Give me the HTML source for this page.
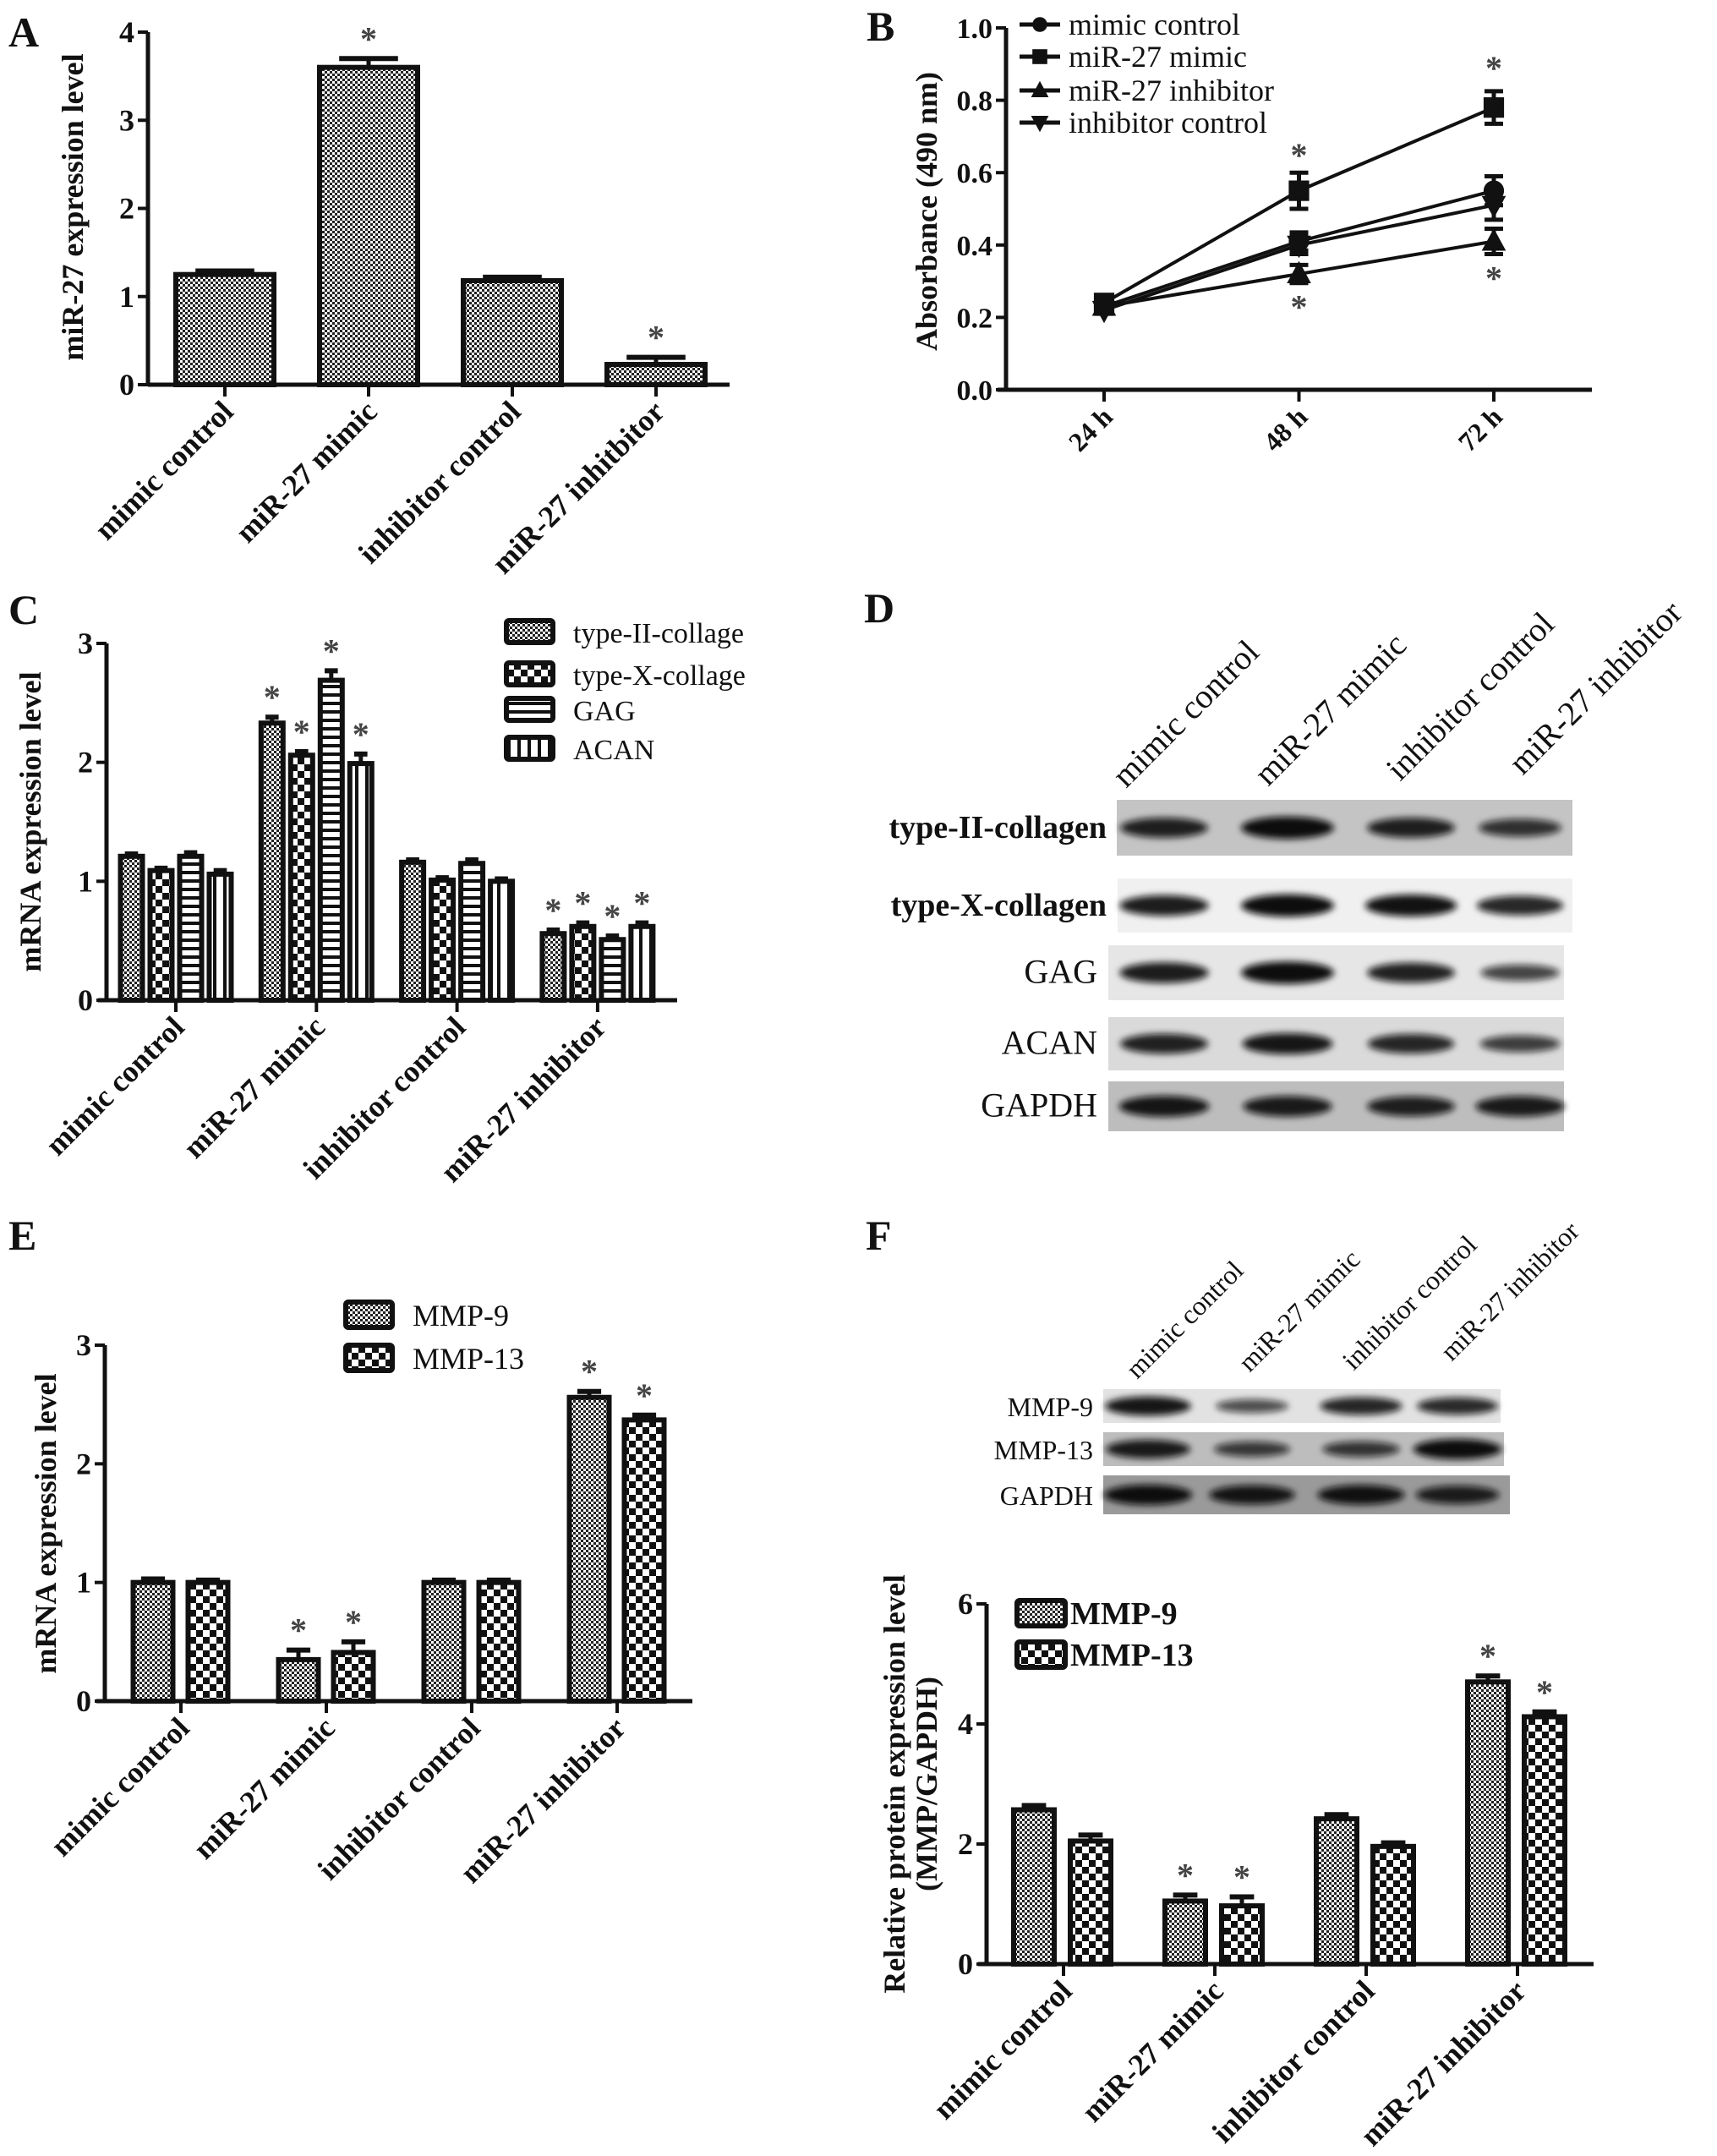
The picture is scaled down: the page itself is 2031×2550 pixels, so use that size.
<!DOCTYPE html>
<html><head><meta charset="utf-8"><style>
html,body{margin:0;padding:0;background:#fff}
svg{display:block;font-family:"Liberation Serif","DejaVu Serif",serif}
</style></head><body>
<svg id="fig" width="2031" height="2550" viewBox="0 0 2031 2550" xmlns="http://www.w3.org/2000/svg">
<defs>
<pattern id="pFine" width="6" height="6" patternUnits="userSpaceOnUse"><rect width="6" height="6" fill="#fff"/><rect width="3" height="3" fill="#222"/><rect x="3" y="3" width="3" height="3" fill="#222"/></pattern>
<pattern id="pCheck" width="16" height="16" patternUnits="userSpaceOnUse"><rect width="16" height="16" fill="#fff"/><rect width="8" height="8" fill="#111"/><rect x="8" y="8" width="8" height="8" fill="#111"/></pattern>
<pattern id="pHor" width="10" height="10" patternUnits="userSpaceOnUse"><rect width="10" height="10" fill="#fff"/><rect width="10" height="4" fill="#111"/></pattern>
<pattern id="pVer" width="12" height="12" patternUnits="userSpaceOnUse"><rect width="12" height="12" fill="#fff"/><rect width="4" height="12" fill="#111"/></pattern>
<filter id="blur" x="-20%" y="-50%" width="140%" height="200%"><feGaussianBlur stdDeviation="4"/></filter>
</defs>
<g id="root"></g>
</svg>
<script>
// ---------- data ----------
const groups = ["mimic control","miR-27 mimic","inhibitor control","miR-27 inhibitor"];
const groupsA = ["mimic control","miR-27 mimic","inhibitor control","miR-27 inhitbitor"];
const aValues = [1.25, 3.6, 1.18, 0.23];
const aErrors = [0.04, 0.1, 0.04, 0.08];
const aStars = [false, true, false, true];
const aTicks = [0,1,2,3,4];

const bTimes = ["24 h","48 h","72 h"];
const bSeriesNames = ["mimic control","miR-27 mimic","miR-27 inhibitor","inhibitor control"];
const bMimicControl = [0.23, 0.41, 0.55];
const bMimic = [0.24, 0.55, 0.78];
const bInhibitor = [0.23, 0.32, 0.41];
const bInhibitorControl = [0.22, 0.40, 0.51];
const bErrMimicControl = [0.01, 0.025, 0.04];
const bErrMimic = [0.01, 0.05, 0.045];
const bErrInhibitor = [0.01, 0.025, 0.035];
const bErrInhibitorControl = [0.01, 0.025, 0.04];
const bTicks = ["0.0","0.2","0.4","0.6","0.8","1.0"];

const cSeriesNames = ["type-II-collage","type-X-collage","GAG","ACAN"];
const cCol2 = [1.21, 2.33, 1.16, 0.56];
const cColX = [1.09, 2.06, 1.01, 0.62];
const cGAG = [1.21, 2.69, 1.15, 0.51];
const cACAN = [1.06, 1.99, 1.00, 0.62];
const cErrCol2 = [0.02, 0.05, 0.02, 0.03];
const cErrColX = [0.02, 0.03, 0.02, 0.03];
const cErrGAG = [0.03, 0.08, 0.03, 0.03];
const cErrACAN = [0.03, 0.08, 0.02, 0.03];
const cStars = [false, true, false, true];
const cTicks = [0,1,2,3];

const eSeriesNames = ["MMP-9","MMP-13"];
const eMMP9 = [1.0, 0.35, 1.0, 2.56];
const eMMP13 = [1.0, 0.41, 1.0, 2.37];
const eErr9 = [0.03, 0.08, 0.02, 0.05];
const eErr13 = [0.02, 0.09, 0.02, 0.04];
const eStars = [false, true, false, true];
const eTicks = [0,1,2,3];

const fMMP9 = [2.57, 1.05, 2.42, 4.70];
const fMMP13 = [2.05, 0.97, 1.96, 4.12];
const fErr9 = [0.07, 0.1, 0.07, 0.1];
const fErr13 = [0.1, 0.15, 0.06, 0.08];
const fStars = [false, true, false, true];
const fTicks = [0,2,4,6];

// blot band intensities (0-1) per lane
const dBlotRows = ["type-II-collagen","type-X-collagen","GAG","ACAN","GAPDH"];
const dBands = [[0.8,1.0,0.8,0.6],[0.85,1.0,0.95,0.75],[0.85,1.0,0.8,0.45],[0.8,0.9,0.75,0.5],[0.9,0.85,0.8,0.85]];
const fBlotRows = ["MMP-9","MMP-13","GAPDH"];
const fBands = [[0.9,0.35,0.75,0.7],[0.85,0.5,0.55,1.0],[1.0,0.9,0.95,0.8]];

// ---------- helpers ----------
const NS = "http://www.w3.org/2000/svg";
const root = document.getElementById("root");
function el(tag, attrs, parent, text){
  const e = document.createElementNS(NS, tag);
  for (const k in attrs) e.setAttribute(k, attrs[k]);
  if (text !== undefined) e.textContent = text;
  (parent || root).appendChild(e);
  return e;
}
function grp(name, parent){
  const g = el("g", {}, parent);
  
  
  return g;
}
function txt(parent, name, x, y, s, size, opts){
  opts = opts || {};
  const t = el("text", {x:x, y:y, "font-size":size, "font-weight":opts.bold?"bold":"normal",
    "text-anchor":opts.anchor||"start", fill:opts.fill||"#111"}, parent, s);
  if (opts.transform) t.setAttribute("transform", opts.transform);
  
  
  return t;
}
function panelLabel(s, x, y){ txt(root, "panel-label-"+s.toLowerCase(), x, y, s, 50, {bold:true}); }

function yAxis(g, axX, y0, yTop, vmax, ticks, tickLabels, size){
  const ys = v => y0 - (v / vmax) * (y0 - yTop);
  const ax = el("line", {x1:axX, y1:y0, x2:axX, y2:yTop, stroke:"#111", "stroke-width":5}, g);
  
  
  ticks.forEach((v,i)=>{
    const y = ys(v);
    const tk = el("line", {x1:axX-12, y1:y, x2:axX, y2:y, stroke:"#111", "stroke-width":4}, g);
    
    
    txt(g, "y-tick-label", axX-16, y+12, tickLabels ? tickLabels[i] : String(v), size||36, {bold:true, anchor:"end"});
  });
  return ys;
}
function xAxis(g, x1, x2, y0){
  const ax = el("line", {x1:x1, y1:y0, x2:x2, y2:y0, stroke:"#111", "stroke-width":5}, g);
  
  
}
function catLabels(g, cats, xs, y0, size){
  cats.forEach((c,i)=>{
    const tk = el("line", {x1:xs(i), y1:y0, x2:xs(i), y2:y0+14, stroke:"#111", "stroke-width":4}, g);
    
    
    const x = xs(i)+12, y = y0+34;
    txt(g, "x-tick-label", x, y, c, size||36, {bold:true, anchor:"end", transform:`rotate(-45 ${x} ${y})`});
  });
}
function bar(g, name, cx, w, v, err, ys, fill, star){
  const y0 = ys(0), yt = ys(v);
  const r = el("rect", {x:cx-w/2, y:yt, width:w, height:y0-yt, fill:`url(#${fill})`, stroke:"#111", "stroke-width":6}, g);
  
  
  const ye = ys(v+err);
  const e1 = el("line", {x1:cx, y1:yt, x2:cx, y2:ye, stroke:"#111", "stroke-width":5}, g);
  
  
  const e2 = el("line", {x1:cx-w*0.3, y1:ye, x2:cx+w*0.3, y2:ye, stroke:"#111", "stroke-width":6}, g);
  
  
  if (star) txt(g, "significance-star", cx, ye-10, "*", 40, {anchor:"middle", fill:"#444", bold:true});
}
function legendBox(g, name, x, y, w, h, fill, label, size, bold){
  const r = el("rect", {x:x, y:y-h/2, width:w, height:h, fill:`url(#${fill})`, stroke:"#111", "stroke-width":6, rx:3}, g);
  
  
  txt(g, name+'-label', x+w+(bold?6:24), y+13, label, size, {bold:!!bold});
}

// ---------- Panel A ----------
panelLabel("A", 10, 55);
(function(){
  const g = grp("panel-a-bar-chart");
  const ys = yAxis(g, 175, 455, 38, 4, aTicks);
  xAxis(g, 175, 863, 455);
  const xs = i => 266 + i*170;
  aValues.forEach((v,i)=> bar(g, "bar-"+groupsA[i].replace(/ /g,'-'), xs(i), 116, v, aErrors[i], ys, "pFine", aStars[i]));
  catLabels(g, groupsA, xs, 455, 36);
  txt(g, "y-axis-title", 0, 0, "miR-27 expression level", 36, {bold:true, anchor:"middle", transform:"translate(98 245) rotate(-90)"});
})();

// ---------- Panel B ----------
panelLabel("B", 1025, 48);
(function(){
  const g = grp("panel-b-line-chart");
  const vals = [0,0.2,0.4,0.6,0.8,1.0];
  const ys = yAxis(g, 1190, 461, 33, 1.0, vals, bTicks, 34);
  xAxis(g, 1180, 1883, 461);
  const xs = i => 1306 + i*230.5;
  bTimes.forEach((t,i)=>{
    const tk = el("line", {x1:xs(i), y1:461, x2:xs(i), y2:475, stroke:"#111", "stroke-width":4}, g);
    
    
    const x = xs(i)+12, y = 495;
    txt(g, "x-tick-label", x, y, t, 32, {bold:true, anchor:"end", transform:`rotate(-45 ${x} ${y})`});
  });
  const series = [bMimicControl, bMimic, bInhibitor, bInhibitorControl];
  const errs = [bErrMimicControl, bErrMimic, bErrInhibitor, bErrInhibitorControl];
  const markers = ["circle","square","up","down"];
  function marker(gg, type, x, y, s){
    let m;
    if (type==="circle") m = el("circle", {cx:x, cy:y, r:s*0.55, fill:"#111"}, gg);
    else if (type==="square") m = el("rect", {x:x-s*0.55, y:y-s*0.55, width:s*1.1, height:s*1.1, fill:"#111"}, gg);
    else if (type==="up") m = el("polygon", {points:`${x},${y-s*0.7} ${x-s*0.65},${y+s*0.5} ${x+s*0.65},${y+s*0.5}`, fill:"#111"}, gg);
    else m = el("polygon", {points:`${x},${y+s*0.7} ${x-s*0.65},${y-s*0.5} ${x+s*0.65},${y-s*0.5}`, fill:"#111"}, gg);
    
    
  }
  series.forEach((s,k)=>{
    const sg = grp("series-"+bSeriesNames[k].replace(/ /g,'-'), g);
    const pts = s.map((v,i)=>`${xs(i)},${ys(v)}`).join(" ");
    const pl = el("polyline", {points:pts, fill:"none", stroke:"#111", "stroke-width":4}, sg);
    
    
    s.forEach((v,i)=>{
      const e = errs[k][i];
      const eb = el("path", {d:`M${xs(i)},${ys(v-e)}V${ys(v+e)}M${xs(i)-11},${ys(v-e)}H${xs(i)+11}M${xs(i)-11},${ys(v+e)}H${xs(i)+11}`, stroke:"#111", "stroke-width":5, fill:"none"}, sg);
      
      
      marker(sg, markers[k], xs(i), ys(v), 22);
    });
  });
  // significance stars
  txt(g, "significance-star", xs(1), ys(0.65)+14, "*", 40, {anchor:"middle", fill:"#444", bold:true});
  txt(g, "significance-star", xs(2), ys(0.89)+14, "*", 40, {anchor:"middle", fill:"#444", bold:true});
  txt(g, "significance-star", xs(1), ys(0.23)+14, "*", 40, {anchor:"middle", fill:"#444", bold:true});
  txt(g, "significance-star", xs(2), ys(0.31)+14, "*", 40, {anchor:"middle", fill:"#444", bold:true});
  // legend
  const lg = grp("legend", g);
  const ly = [29, 67, 107, 145];
  bSeriesNames.forEach((n,k)=>{
    const ln = el("line", {x1:1206, y1:ly[k], x2:1254, y2:ly[k], stroke:"#111", "stroke-width":5}, lg);
    
    
    marker(lg, markers[k], 1230, ly[k], 16);
    txt(lg, "legend-entry", 1264, ly[k]+12, n, 36);
  });
  txt(g, "y-axis-title", 0, 0, "Absorbance (490 nm)", 36, {bold:true, anchor:"middle", transform:"translate(1108 250) rotate(-90)"});
})();

// ---------- Panel C ----------
panelLabel("C", 10, 738);
(function(){
  const g = grp("panel-c-bar-chart");
  const ys = yAxis(g, 126, 1183, 761, 3, cTicks);
  xAxis(g, 116, 801, 1183);
  const xs = i => 208 + i*166.3;
  const series = [cCol2, cColX, cGAG, cACAN];
  const errs = [cErrCol2, cErrColX, cErrGAG, cErrACAN];
  const fills = ["pFine","pCheck","pHor","pVer"];
  series.forEach((s,k)=>{
    s.forEach((v,i)=> bar(g, "bar-"+cSeriesNames[k]+"-"+i, xs(i)+(k-1.5)*35, 26, v, errs[k][i], ys, fills[k], cStars[i]));
  });
  catLabels(g, groups, xs, 1183, 36);
  const lg = grp("legend", g);
  const ly = [747, 797, 839, 885];
  cSeriesNames.forEach((n,k)=> legendBox(lg, "legend-"+k, 599, ly[k], 55, 26, fills[k], n, 34));
  txt(g, "y-axis-title", 0, 0, "mRNA expression level", 36, {bold:true, anchor:"middle", transform:"translate(48 972) rotate(-90)"});
})();

// ---------- blots ----------
function blot(g, rows, bands, rects, lanes, bandW, bandH, labels, labelX, sizes, bolds, bgs){
  rows.forEach((r,k)=>{
    const [x,y,w,h] = rects[k];
    const bg = el("rect", {x:x, y:y, width:w, height:h, fill:bgs[k]}, g);
    
    
    bands[k].forEach((b,i)=>{
      const e = el("ellipse", {cx:lanes[i], cy:y+h/2, rx:bandW/2*(0.8+0.3*b), ry:bandH/2*(0.6+0.6*b), fill:`rgba(10,10,10,${0.55+0.45*b})`, filter:"url(#blur)"}, g);
      
      
    });
    txt(g, "blot-row-label", labelX[k], y+h/2+12, r, sizes[k], {bold:bolds[k], anchor:"end"});
  });
}
panelLabel("D", 1022, 736);
(function(){
  const g = grp("panel-d-western-blot");
  blot(g, dBlotRows, dBands,
    [[1321,946,539,66],[1322,1039,538,64],[1311,1118,539,65],[1311,1203,539,63],[1311,1279,539,59]],
    [1377,1523,1669,1798], 100, 22,
    null, [1309,1309,1298,1298,1298], [38,38,40,40,40], [true,true,false,false,false],
    ["#c4c4c4","#f0f0f0","#e6e6e6","#dadada","#bdbdbd"]);
  const starts = [[1332,933],[1500,931],[1656,925],[1801,918]];
  groups.forEach((c,i)=> txt(g, "lane-label", starts[i][0], starts[i][1], c, 40, {transform:`rotate(-45 ${starts[i][0]} ${starts[i][1]})`}));
})();

// ---------- Panel E ----------
panelLabel("E", 10, 1478);
(function(){
  const g = grp("panel-e-bar-chart");
  const ys = yAxis(g, 124, 2012, 1591, 3, eTicks);
  xAxis(g, 114, 819, 2012);
  const xs = i => 214 + i*172;
  eMMP9.forEach((v,i)=> bar(g, "bar-MMP-9-"+i, xs(i)-33, 47, v, eErr9[i], ys, "pFine", eStars[i]));
  eMMP13.forEach((v,i)=> bar(g, "bar-MMP-13-"+i, xs(i)+32, 47, v, eErr13[i], ys, "pCheck", eStars[i]));
  catLabels(g, groups, xs, 2012, 36);
  const lg = grp("legend", g);
  legendBox(lg, "legend-mmp9", 409, 1555, 55, 30, "pFine", "MMP-9", 36);
  legendBox(lg, "legend-mmp13", 409, 1606, 55, 30, "pCheck", "MMP-13", 36);
  txt(g, "y-axis-title", 0, 0, "mRNA expression level", 36, {bold:true, anchor:"middle", transform:"translate(66 1802) rotate(-90)"});
})();

// ---------- Panel F ----------
panelLabel("F", 1024, 1478);
(function(){
  const g = grp("panel-f-western-blot");
  blot(g, fBlotRows, fBands,
    [[1305,1643,470,40],[1305,1694,474,40],[1305,1745,481,46]],
    [1358,1481,1610,1724], 95, 20,
    null, [1293,1293,1293], [32,32,32], [false,false,false],
    ["#e2e2e2","#bdbdbd","#9a9a9a"]);
  const starts = [[1345,1632],[1478,1624],[1601,1622],[1717,1611]];
  groups.forEach((c,i)=> txt(g, "lane-label", starts[i][0], starts[i][1], c, 32, {transform:`rotate(-45 ${starts[i][0]} ${starts[i][1]})`}));
})();
(function(){
  const g = grp("panel-f-bar-chart");
  const ys = yAxis(g, 1167, 2323, 1897, 6, fTicks);
  xAxis(g, 1157, 1885, 2323);
  const xs = i => 1258 + i*179;
  fMMP9.forEach((v,i)=> bar(g, "bar-MMP-9-"+i, xs(i)-35, 48, v, fErr9[i], ys, "pFine", fStars[i]));
  fMMP13.forEach((v,i)=> bar(g, "bar-MMP-13-"+i, xs(i)+32, 48, v, fErr13[i], ys, "pCheck", fStars[i]));
  catLabels(g, groups, xs, 2323, 36);
  const lg = grp("legend", g);
  legendBox(lg, "legend-mmp9", 1203, 1908, 57, 30, "pFine", "MMP-9", 38, true);
  legendBox(lg, "legend-mmp13", 1203, 1957, 57, 30, "pCheck", "MMP-13", 38, true);
  txt(g, "y-axis-title", 0, 0, "Relative protein expression level", 36, {bold:true, anchor:"middle", transform:"translate(1070 2110) rotate(-90)"});
  txt(g, "y-axis-title-unit", 0, 0, "(MMP/GAPDH)", 36, {bold:true, anchor:"middle", transform:"translate(1108 2110) rotate(-90)"});
})();
</script>
</body></html>
